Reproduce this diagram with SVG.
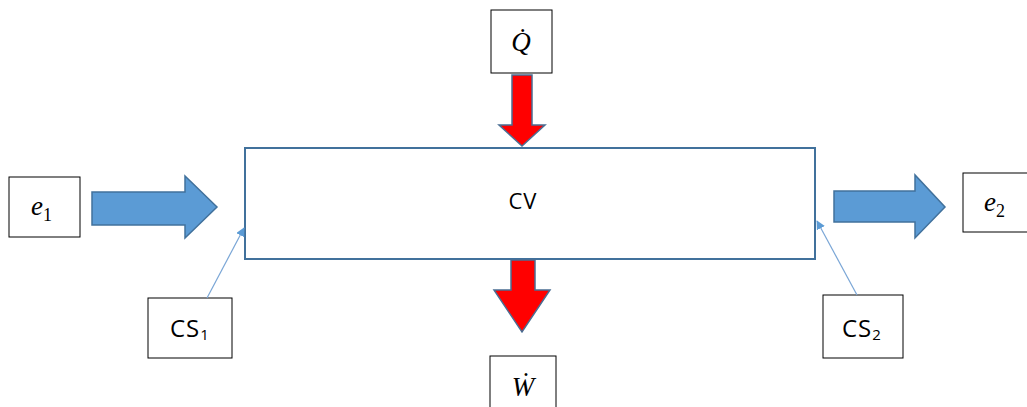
<svg xmlns="http://www.w3.org/2000/svg" width="1027" height="407" viewBox="0 0 1027 407">
<style>
.box{fill:#fff;stroke:#000;stroke-width:1}
.cv{fill:#fff;stroke:#41719c;stroke-width:2}
.blue{fill:#5b9bd5;stroke:#41719c;stroke-width:1.5}
.red{fill:#ff0000;stroke:#4a6e93;stroke-width:1.5}
.math{font-family:"Liberation Serif","DejaVu Serif",serif;font-style:italic;font-size:27px;fill:#000}
.sub{font-family:"Liberation Serif","DejaVu Serif",serif;font-style:normal;font-size:18px}
.lbl{font-family:"Open Sans","Liberation Sans",sans-serif;font-size:22px;letter-spacing:1px;fill:#000}
.cs{font-size:24px}
.lsub{font-size:15px}
.thin{stroke:#7aa6d6;stroke-width:1.2;fill:none}
</style>
<defs>
<marker id="ah" viewBox="0 0 10 10" refX="9" refY="5" markerWidth="9" markerHeight="9" markerUnits="userSpaceOnUse" orient="auto">
<path d="M0,0 L10,5 L0,10 z" fill="#5b9bd5"/>
</marker>
</defs>
<g id="cv">
<rect class="cv" x="245" y="148" width="570" height="111"/>
<text class="lbl" x="523" y="209" text-anchor="middle">CV</text>
</g>
<g id="q">
<rect class="box" x="491" y="10" width="61" height="63"/>
<text class="math" x="521" y="51" text-anchor="middle">Q̇</text>
</g>
<g id="w">
<rect class="box" x="490" y="356" width="66" height="60"/>
<text class="math" x="523" y="396" text-anchor="middle">Ẇ</text>
</g>
<g id="e1">
<rect class="box" x="9" y="177" width="71" height="60"/>
<text class="math" x="31" y="215">e<tspan class="sub" dy="6">1</tspan></text>
</g>
<g id="e2">
<rect class="box" x="963" y="173" width="70" height="59"/>
<text class="math" x="984" y="211">e<tspan class="sub" dy="6">2</tspan></text>
</g>
<g id="cs1">
<rect class="box" x="148" y="298" width="84" height="60"/>
<text class="lbl cs" x="170" y="337">CS<tspan class="lsub" dy="3">1</tspan></text>
</g>
<g id="cs2">
<rect class="box" x="823" y="295" width="80" height="63"/>
<text class="lbl cs" x="842" y="337">CS<tspan class="lsub" dy="3">2</tspan></text>
</g>
<g id="connectors">
<path class="blue" d="M92,192 L185,192 L185,176 L217,207 L185,238 L185,225 L92,225 z"/>
<path class="blue" d="M834,191 L915,191 L915,175 L945,207 L915,238 L915,222 L834,222 z"/>
<path class="red" d="M512,75 L532,75 L532,125 L545,125 L522,146 L499,125 L512,125 z"/>
<path class="red" d="M511,260 L535,260 L535,290 L550,290 L522,332 L494,290 L511,290 z"/>
<line class="thin" x1="207" y1="298" x2="244" y2="228" marker-end="url(#ah)"/>
<line class="thin" x1="857" y1="295" x2="817" y2="221" marker-end="url(#ah)"/>
</g>
</svg>
